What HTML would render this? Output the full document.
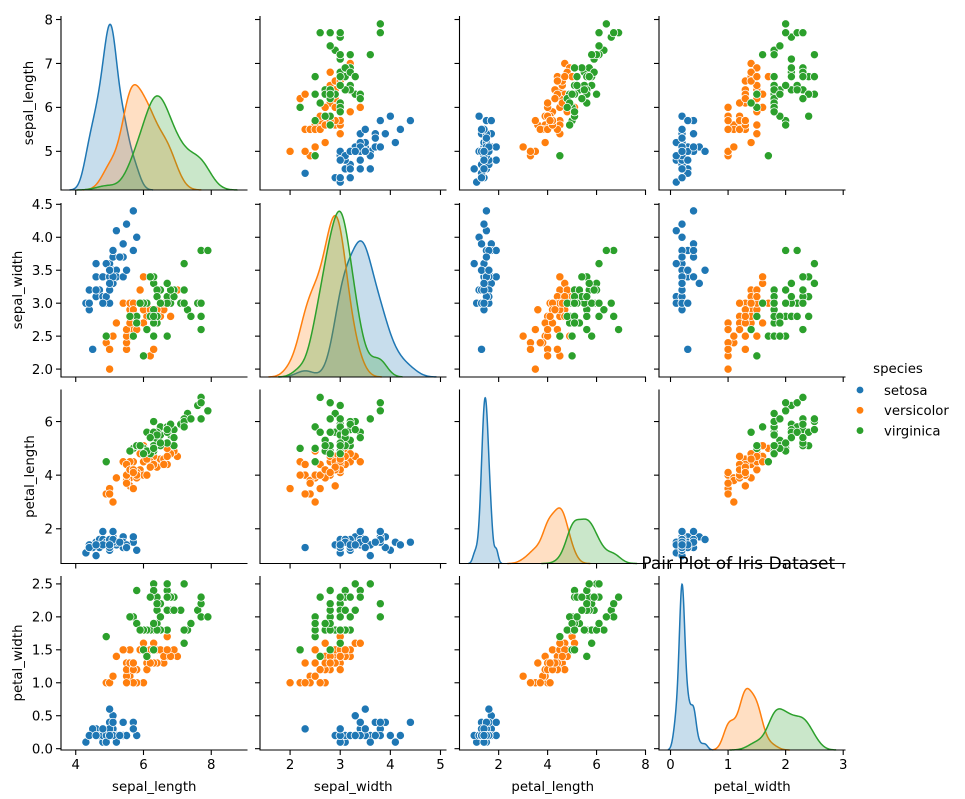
<!DOCTYPE html>
<html><head><meta charset="utf-8"><style>
html,body{margin:0;padding:0;background:#fff;}
svg{display:block;font-family:"DejaVu Sans","Liberation Sans",sans-serif;}
</style></head><body>
<svg id="chart" width="965" height="799" viewBox="0 0 965 799" xmlns="http://www.w3.org/2000/svg"></svg>
<script>
const variables = ["sepal_length","sepal_width","petal_length","petal_width"];
const speciesNames = ["setosa","versicolor","virginica"];
const sepalLength = [5.1,4.9,4.7,4.6,5.0,5.4,4.6,5.0,4.4,4.9,5.4,4.8,4.8,4.3,5.8,5.7,5.4,5.1,5.7,5.1,5.4,5.1,4.6,5.1,4.8,5.0,5.0,5.2,5.2,4.7,4.8,5.4,5.2,5.5,4.9,5.0,5.5,4.9,4.4,5.1,5.0,4.5,4.4,5.0,5.1,4.8,5.1,4.6,5.3,5.0,
7.0,6.4,6.9,5.5,6.5,5.7,6.3,4.9,6.6,5.2,5.0,5.9,6.0,6.1,5.6,6.7,5.6,5.8,6.2,5.6,5.9,6.1,6.3,6.1,6.4,6.6,6.8,6.7,6.0,5.7,5.5,5.5,5.8,6.0,5.4,6.0,6.7,6.3,5.6,5.5,5.5,6.1,5.8,5.0,5.6,5.7,5.7,6.2,5.1,5.7,
6.3,5.8,7.1,6.3,6.5,7.6,4.9,7.3,6.7,7.2,6.5,6.4,6.8,5.7,5.8,6.4,6.5,7.7,7.7,6.0,6.9,5.6,7.7,6.3,6.7,7.2,6.2,6.1,6.4,7.2,7.4,7.9,6.4,6.3,6.1,7.7,6.3,6.4,6.0,6.9,6.7,6.9,5.8,6.8,6.7,6.7,6.3,6.5,6.2,5.9];
const sepalWidth = [3.5,3.0,3.2,3.1,3.6,3.9,3.4,3.4,2.9,3.1,3.7,3.4,3.0,3.0,4.0,4.4,3.9,3.5,3.8,3.8,3.4,3.7,3.6,3.3,3.4,3.0,3.4,3.5,3.4,3.2,3.1,3.4,4.1,4.2,3.1,3.2,3.5,3.6,3.0,3.4,3.5,2.3,3.2,3.5,3.8,3.0,3.8,3.2,3.7,3.3,
3.2,3.2,3.1,2.3,2.8,2.8,3.3,2.4,2.9,2.7,2.0,3.0,2.2,2.9,2.9,3.1,3.0,2.7,2.2,2.5,3.2,2.8,2.5,2.8,2.9,3.0,2.8,3.0,2.9,2.6,2.4,2.4,2.7,2.7,3.0,3.4,3.1,2.3,3.0,2.5,2.6,3.0,2.6,2.3,2.7,3.0,2.9,2.9,2.5,2.8,
3.3,2.7,3.0,2.9,3.0,3.0,2.5,2.9,2.5,3.6,3.2,2.7,3.0,2.5,2.8,3.2,3.0,3.8,2.6,2.2,3.2,2.8,2.8,2.7,3.3,3.2,2.8,3.0,2.8,3.0,2.8,3.8,2.8,2.8,2.6,3.0,3.4,3.1,3.0,3.1,3.1,3.1,2.7,3.2,3.3,3.0,2.5,3.0,3.4,3.0];
const petalLength = [1.4,1.4,1.3,1.5,1.4,1.7,1.4,1.5,1.4,1.5,1.5,1.6,1.4,1.1,1.2,1.5,1.3,1.4,1.7,1.5,1.7,1.5,1.0,1.7,1.9,1.6,1.6,1.5,1.4,1.6,1.6,1.5,1.5,1.4,1.5,1.2,1.3,1.4,1.3,1.5,1.3,1.3,1.3,1.6,1.9,1.4,1.6,1.4,1.5,1.4,
4.7,4.5,4.9,4.0,4.6,4.5,4.7,3.3,4.6,3.9,3.5,4.2,4.0,4.7,3.6,4.4,4.5,4.1,4.5,3.9,4.8,4.0,4.9,4.7,4.3,4.4,4.8,5.0,4.5,3.5,3.8,3.7,3.9,5.1,4.5,4.5,4.7,4.4,4.1,4.0,4.4,4.6,4.0,3.3,4.2,4.2,4.2,4.3,3.0,4.1,
6.0,5.1,5.9,5.6,5.8,6.6,4.5,6.3,5.8,6.1,5.1,5.3,5.5,5.0,5.1,5.3,5.5,6.7,6.9,5.0,5.7,4.9,6.7,4.9,5.7,6.0,4.8,4.9,5.6,5.8,6.1,6.4,5.6,5.1,5.6,6.1,5.6,5.5,4.8,5.4,5.6,5.1,5.1,5.9,5.7,5.2,5.0,5.2,5.4,5.1];
const petalWidth = [0.2,0.2,0.2,0.2,0.2,0.4,0.3,0.2,0.2,0.1,0.2,0.2,0.1,0.1,0.2,0.4,0.4,0.3,0.3,0.3,0.2,0.4,0.2,0.5,0.2,0.2,0.4,0.2,0.2,0.2,0.2,0.4,0.1,0.2,0.2,0.2,0.2,0.1,0.2,0.2,0.3,0.3,0.2,0.6,0.4,0.3,0.2,0.2,0.2,0.2,
1.4,1.5,1.5,1.3,1.5,1.3,1.6,1.0,1.3,1.4,1.0,1.5,1.0,1.4,1.3,1.4,1.5,1.0,1.5,1.1,1.8,1.3,1.5,1.2,1.3,1.4,1.4,1.7,1.5,1.0,1.1,1.0,1.2,1.6,1.5,1.6,1.5,1.3,1.3,1.3,1.2,1.4,1.2,1.0,1.3,1.2,1.3,1.3,1.1,1.3,
2.5,1.9,2.1,1.8,2.2,2.1,1.7,1.8,1.8,2.5,2.0,1.9,2.1,2.0,2.4,2.3,1.8,2.2,2.3,1.5,2.3,2.0,2.0,1.8,2.1,1.8,1.8,1.8,2.1,1.6,1.9,2.0,2.2,1.5,1.4,2.3,2.4,1.8,1.8,2.1,2.4,2.3,1.9,2.3,2.5,2.3,1.9,2.0,2.3,1.8];
const speciesIndex = [].concat(Array(50).fill(0),Array(50).fill(1),Array(50).fill(2));
const tickValues = [[4,6,8],[2,3,4,5],[2,4,6,8],[0,1,2,3]];
const yTickValues = [[5,6,7,8],[2.0,2.5,3.0,3.5,4.0,4.5],[2,4,6],[0.0,0.5,1.0,1.5,2.0,2.5]];
const yTickLabels = [["5","6","7","8"],["2.0","2.5","3.0","3.5","4.0","4.5"],["2","4","6"],["0.0","0.5","1.0","1.5","2.0","2.5"]];
const xLimits = [[3.565,9.07],[1.40,5.12],[0.40,8.02],[-0.20,3.04]];

const columns = [sepalLength,sepalWidth,petalLength,petalWidth];
const colors = ["#1f77b4","#ff7f0e","#2ca02c"];
const NS = "http://www.w3.org/2000/svg";
const svg = document.getElementById("chart");
function mk(tag, attrs, parent){const e=document.createElementNS(NS,tag);for(const k in attrs)e.setAttribute(k,attrs[k]);(parent||svg).appendChild(e);return e;}

const yLimits = columns.map(c=>{const mn=Math.min(...c),mx=Math.max(...c),p=(mx-mn)*0.05;return [mn-p,mx+p];});
const colLeft = [61,260,459.5,659], panelW = 186.5;
const rowTop = [16,203,389.5,576], panelH = 174;
const yTitleX = [33,22,34,22];

function xScale(j,v){const [a,b]=xLimits[j];return colLeft[j]+(v-a)/(b-a)*panelW;}
function yScale(i,v){const [a,b]=yLimits[i];return rowTop[i]+panelH-(v-a)/(b-a)*panelH;}

function kde(vals,bw,x){let s=0;for(const v of vals){const z=(x-v)/bw;s+=Math.exp(-0.5*z*z);}return s/(vals.length*bw*Math.sqrt(2*Math.PI));}
function std(a){const m=a.reduce((p,c)=>p+c,0)/a.length;return Math.sqrt(a.reduce((p,c)=>p+(c-m)*(c-m),0)/(a.length-1));}

for(let i=0;i<4;i++){
  for(let j=0;j<4;j++){
    const g=mk("g",{});
    
    
    const L=colLeft[j],T=rowTop[i],B=T+panelH,R=L+panelW;
    if(i===j){
      const total=columns[j].length;
      const curves=[];let maxD=0;
      for(let s=0;s<3;s++){
        const vals=columns[j].filter((_,k)=>speciesIndex[k]===s);
        const bw=std(vals)*Math.pow(vals.length,-0.2);
        const lo=Math.min(...vals)-3*bw,hi=Math.max(...vals)+3*bw;
        const pts=[];
        for(let k=0;k<=200;k++){const x=lo+(hi-lo)*k/200;const d=kde(vals,bw,x)*vals.length/total;pts.push([x,d]);if(d>maxD)maxD=d;}
        curves.push(pts);
      }
      const yMax=maxD*1.05;
      const dy=d=>B-d/yMax*panelH;
      curves.forEach((pts,s)=>{
        const line=pts.map((p,k)=>(k?"L":"M")+xScale(j,p[0]).toFixed(2)+","+dy(p[1]).toFixed(2)).join("");
        const fill=mk("path",{d:line+"L"+xScale(j,pts[pts.length-1][0]).toFixed(2)+","+B+"L"+xScale(j,pts[0][0]).toFixed(2)+","+B+"Z",fill:colors[s],"fill-opacity":0.25,stroke:"none"},g);
        
        
        const ln=mk("path",{d:line,fill:"none",stroke:colors[s],"stroke-width":1.5},g);
        
        
      });
    } else {
      for(let k=0;k<columns[j].length;k++){
        const c=mk("circle",{cx:xScale(j,columns[j][k]).toFixed(2),cy:yScale(i,columns[i][k]).toFixed(2),r:4.1,fill:colors[speciesIndex[k]],stroke:"#fff","stroke-width":0.75},g);
        
        
      }
    }
    const sp=mk("path",{d:`M${L},${T}V${B}H${R}`,fill:"none",stroke:"#000","stroke-width":1.1},g);
    
    
    tickValues[j].forEach(v=>{
      const x=xScale(j,v);
      const t=mk("line",{x1:x,x2:x,y1:B,y2:B+5,stroke:"#000","stroke-width":1.1},g);
      
      
      if(i===3){
        const tl=mk("text",{x:x,y:B+19,"text-anchor":"middle","font-size":"13.3px",fill:"#000"},g);
        tl.textContent=String(v);
        
        
      }
    });
    yTickValues[i].forEach((v,k)=>{
      const y=yScale(i,v);
      const t=mk("line",{x1:L-5,x2:L,y1:y,y2:y,stroke:"#000","stroke-width":1.1},g);
      
      
      if(j===0){
        const tl=mk("text",{x:L-8,y:y+4.8,"text-anchor":"end","font-size":"13.3px",fill:"#000"},g);
        tl.textContent=yTickLabels[i][k];
        
        
      }
    });
  }
}
variables.forEach((v,j)=>{
  const t=mk("text",{x:colLeft[j]+panelW/2,y:791,"text-anchor":"middle","font-size":"13.3px",fill:"#000"});
  t.textContent=v;
  
  
  const cy=rowTop[j]+panelH/2;
  const y=mk("text",{x:0,y:0,"text-anchor":"middle","font-size":"13.3px",fill:"#000",transform:`translate(${yTitleX[j]},${cy}) rotate(-90)`});
  y.textContent=v;
  
  
});
const title=mk("text",{x:colLeft[3]+panelW/2-14,y:569,"text-anchor":"middle","font-size":"17px",fill:"#000"});
title.textContent="Pair Plot of Iris Dataset";


const lg=mk("g",{});


const lt=mk("text",{x:898,y:373,"text-anchor":"middle","font-size":"13.3px",fill:"#000"},lg);
lt.textContent="species";


speciesNames.forEach((s,k)=>{
  const y=390+k*20.3;
  const d=mk("circle",{cx:860,cy:y,r:3.8,fill:colors[k],stroke:"#fff","stroke-width":0.75},lg);
  
  
  const t=mk("text",{x:884,y:y+4.8,"font-size":"13.3px",fill:"#000"},lg);
  t.textContent=s;
  
  
});
</script>
</body></html>
